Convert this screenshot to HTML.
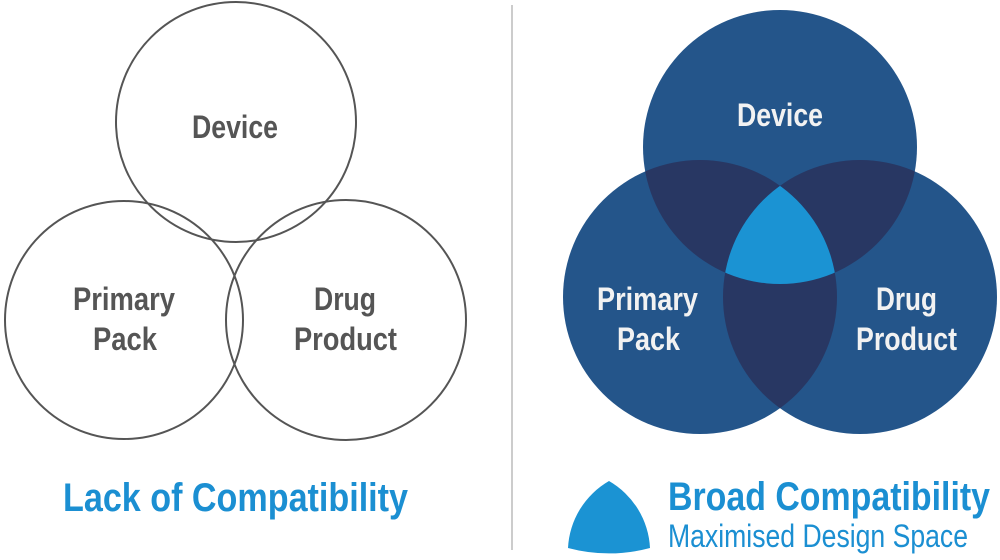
<!DOCTYPE html>
<html><head><meta charset="utf-8"><style>
html,body{margin:0;padding:0;background:#fff;}
svg{display:block;}
text{font-family:"Liberation Sans Narrow","Liberation Sans",sans-serif;font-weight:bold;}
</style></head><body>
<svg width="1000" height="560" viewBox="0 0 1000 560" xmlns="http://www.w3.org/2000/svg">
<defs>
<clipPath id="cT"><circle cx="780" cy="147" r="137"/></clipPath>
<clipPath id="cL"><circle cx="700" cy="297" r="137"/></clipPath>
<clipPath id="cR"><circle cx="860" cy="297" r="137"/></clipPath>
</defs>
<g fill="none" stroke="#555" stroke-width="2">
<circle cx="236" cy="122" r="120"/>
<circle cx="124" cy="320" r="119"/>
<circle cx="346" cy="320" r="120"/>
</g>
<g fill="#555" font-size="32">
<text x="192" y="138" textLength="86" lengthAdjust="spacingAndGlyphs">Device</text>
<text x="73" y="310" textLength="102" lengthAdjust="spacingAndGlyphs">Primary</text>
<text x="93" y="350" textLength="64" lengthAdjust="spacingAndGlyphs">Pack</text>
<text x="314" y="310" textLength="62" lengthAdjust="spacingAndGlyphs">Drug</text>
<text x="294" y="350" textLength="103" lengthAdjust="spacingAndGlyphs">Product</text>
</g>
<text x="63" y="511" font-size="40" fill="#1b8fd2" textLength="345" lengthAdjust="spacingAndGlyphs">Lack of Compatibility</text>
<line x1="512" y1="5" x2="512" y2="550" stroke="#bbb" stroke-width="1.5"/>
<g fill="#24558a">
<circle cx="780" cy="147" r="137"/>
<circle cx="700" cy="297" r="137"/>
<circle cx="860" cy="297" r="137"/>
</g>
<g fill="#283763">
<circle cx="700" cy="297" r="137" clip-path="url(#cT)"/>
<circle cx="860" cy="297" r="137" clip-path="url(#cT)"/>
<circle cx="860" cy="297" r="137" clip-path="url(#cL)"/>
</g>
<g clip-path="url(#cT)"><g clip-path="url(#cL)">
<circle cx="860" cy="297" r="137" fill="#1b93d3"/>
</g></g>
<g fill="#f2f2f2" font-size="32">
<text x="737" y="126" textLength="86" lengthAdjust="spacingAndGlyphs">Device</text>
<text x="597" y="310" textLength="101" lengthAdjust="spacingAndGlyphs">Primary</text>
<text x="617" y="350" textLength="63" lengthAdjust="spacingAndGlyphs">Pack</text>
<text x="876" y="310" textLength="61" lengthAdjust="spacingAndGlyphs">Drug</text>
<text x="856" y="350" textLength="101" lengthAdjust="spacingAndGlyphs">Product</text>
</g>
<path d="M609 481 A82 82 0 0 1 650 548 A160 160 0 0 1 568 548 A82 82 0 0 1 609 481 Z" fill="#1b93d3"/>
<text x="668" y="510" font-size="40" fill="#1b8fd2" textLength="322" lengthAdjust="spacingAndGlyphs">Broad Compatibility</text>
<text x="668" y="547" font-size="32" fill="#1b8fd2" style="font-weight:normal" textLength="300" lengthAdjust="spacingAndGlyphs">Maximised Design Space</text>
</svg>
</body></html>
